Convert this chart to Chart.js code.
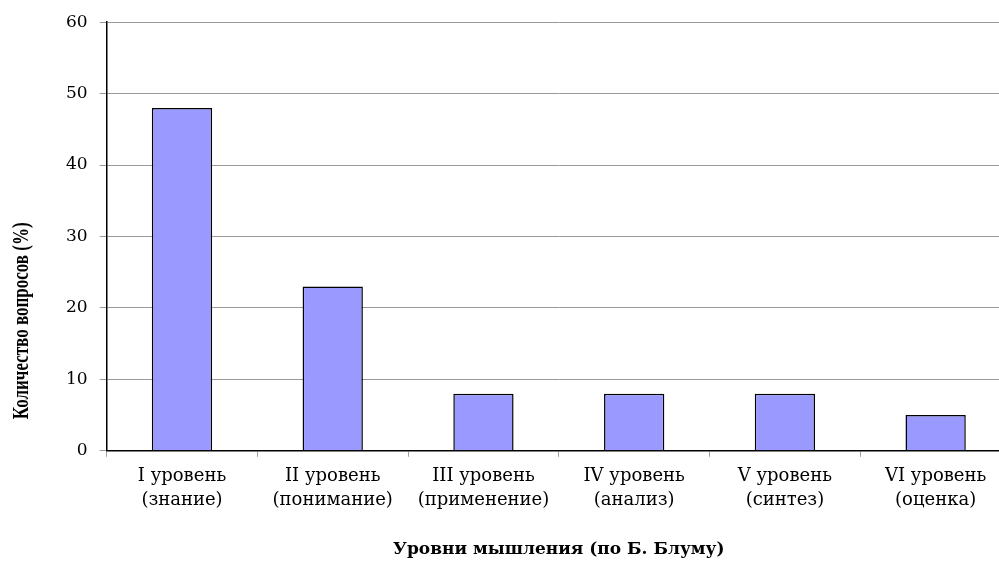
<!DOCTYPE html>
<html lang="ru">
<head>
    <meta charset="utf-8" />
    <title>Уровни мышления</title>
    <script src="https://cdn.jsdelivr.net/npm/chart.js"></script>
    <style>
        html, body { margin: 0; padding: 0; background: #fff; overflow: hidden; }
        /* the plot runs slightly past the right edge in the original */
        #wrap { width: 1012px; height: 561px; }
    </style>
</head>
<body>
<div id="wrap"><canvas id="bloomChart"></canvas></div>
<script>
    // Data
    var levels = [
        ['I уровень', '(знание)'],
        ['II уровень', '(понимание)'],
        ['III уровень', '(применение)'],
        ['IV уровень', '(анализ)'],
        ['V уровень', '(синтез)'],
        ['VI уровень', '(оценка)']
    ];
    var percents = [48, 23, 8, 8, 8, 5];
    var yTitle = 'Количество вопросов (%)';
    var xTitle = 'Уровни мышления (по Б. Блуму)';

    var serif = "'DejaVu Serif', 'Liberation Serif', serif";

    // y title sits lower than the plot centre in the original, so draw it by hand
    var yTitlePlugin = {
        id: 'yTitle',
        afterDraw: function (chart) {
            var c = chart.ctx;
            var area = chart.chartArea;
            c.save();
            c.translate(22, area.bottom - 130);
            c.rotate(-Math.PI / 2);
            c.scale(1, 1.3); // glyphs look stretched in the original
            c.font = "bold 17px 'Liberation Serif', serif";
            c.fillStyle = '#000';
            c.textAlign = 'center';
            c.textBaseline = 'middle';
            c.fillText(yTitle, 0, 0);
            c.restore();
        }
    };

    var ctx = document.getElementById('bloomChart').getContext('2d');
    var bloomChart = new Chart(ctx, {
        type: 'bar',
        data: {
            labels: levels,
            datasets: [{
                label: yTitle,
                data: percents,
                backgroundColor: '#9999FF',
                borderColor: '#000000',
                borderWidth: 1.5,
                barPercentage: 0.40,
                categoryPercentage: 1.0
            }]
        },
        plugins: [yTitlePlugin],
        options: {
            responsive: true,
            maintainAspectRatio: false,
            animation: false,
            layout: { padding: { top: 12, right: 1, bottom: 1, left: 54 } },
            plugins: {
                legend: { display: false },
                tooltip: { enabled: false }
            },
            scales: {
                x: {
                    grid: {
                        display: true,
                        drawOnChartArea: false,
                        drawTicks: true,
                        tickLength: 6,
                        color: '#a0a0a0',
                        offset: true
                    },
                    border: { color: '#000000', width: 1.5 },
                    ticks: {
                        color: '#000000',
                        font: { family: serif, size: 18, lineHeight: 1.3 },
                        padding: 8,
                        maxRotation: 0
                    },
                    title: {
                        display: true,
                        text: xTitle,
                        color: '#000000',
                        font: { family: serif, size: 17, weight: 'bold' },
                        padding: { top: 20, bottom: 0 }
                    }
                },
                y: {
                    min: 0,
                    max: 60,
                    ticks: {
                        stepSize: 10,
                        color: '#000000',
                        font: { family: serif, size: 17 },
                        padding: 12
                    },
                    grid: {
                        color: '#999999',
                        lineWidth: 1,
                        tickLength: 7
                    },
                    border: { color: '#000000', width: 1.5 }
                }
            }
        }
    });
</script>
</body>
</html>
